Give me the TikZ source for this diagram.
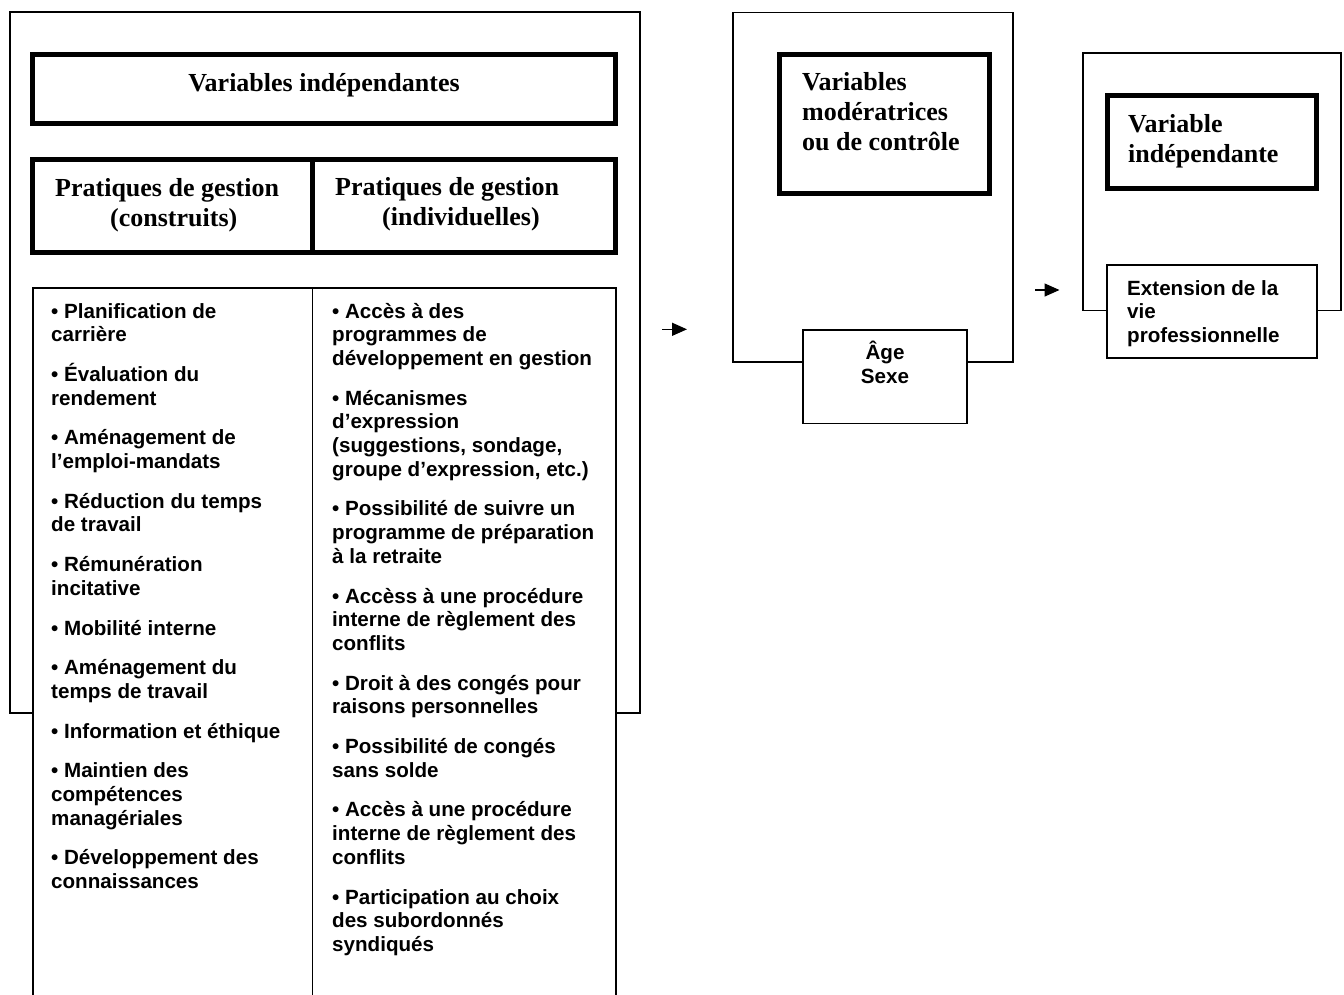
\documentclass[tikz,border=0pt]{standalone}
\usepackage{fontspec}
\setmainfont{Liberation Serif}
\newfontfamily\arialf{Liberation Sans}
\usetikzlibrary{arrows.meta}
\tikzset{
  thinbox/.style={draw, line width=1.6pt, fill=white, inner sep=0pt, outer sep=0pt},
  thickbox/.style={draw, line width=5pt, fill=white, inner sep=0pt, outer sep=0pt},
  hdr/.style={font=\fontsize{26}{30}\selectfont\bfseries, inner sep=0pt, align=left},
  lst/.style={font=\arialf\fontsize{20.6}{23.7}\selectfont\bfseries, inner sep=0pt, align=left},
  arr/.style={line width=1.4pt, -{Triangle[length=15pt,width=13pt]}},
  thinline/.style={line width=1.6pt},
}
\begin{document}
\begin{tikzpicture}[x=1pt,y=-1pt]
\fill[white] (0,0) rectangle (1344,994);
\useasboundingbox (0,0) rectangle (1344,994);

% ---------- left block ----------
\node[thinbox, minimum width=630pt, minimum height=701pt] (outerL) at (325,362.5) {};
\node[thickbox, minimum width=583pt, minimum height=69pt] (hVI) at (324,89) {};
\node[thickbox, minimum width=280pt, minimum height=92.5pt] (hPC) at (172.5,205.75) {};
\node[thickbox, minimum width=303pt, minimum height=92.5pt] (hPI) at (464,205.75) {};
\coordinate (lbBL) at (33,995);
\coordinate (lbTL) at (33,288);
\coordinate (lbTR) at (616,288);
\coordinate (lbBR) at (616,995);
\coordinate (lbMT) at (312.5,288);
\coordinate (lbMB) at (312.5,995);
\fill[white] (lbBL) -- (lbTL) -- (lbTR) -- (lbBR) -- cycle;
\draw[thinline] (lbBL) -- (lbTL) -- (lbTR) -- (lbBR);
\draw[thinline] (lbMT) -- (lbMB);

% (multi-line nodes: base anchor = baseline of the last line)
\node[hdr, anchor=base] (tVI) at (324,91) {Variables indépendantes};
\node[hdr, anchor=base west] (tPC) at (55,226) {Pratiques de gestion\\\hspace*{55pt}(construits)};
\node[hdr, anchor=base west] (tPI) at (335,225) {Pratiques de gestion\\\hspace*{47pt}(individuelles)};

\node[lst, anchor=base west] (listL) at (51,888.6) {%
• Planification de\\carrière\\[16pt]
• Évaluation du\\rendement\\[16pt]
• Aménagement de\\l’emploi-mandats\\[16pt]
• Réduction du temps\\de travail\\[16pt]
• Rémunération\\incitative\\[16pt]
• Mobilité interne\\[16pt]
• Aménagement du\\temps de travail\\[16pt]
• Information et éthique\\[16pt]
• Maintien des\\compétences\\managériales\\[16pt]
• Développement des\\connaissances};

\node[lst, anchor=base west] (listR) at (332,951.4) {%
• Accès à des\\programmes de\\développement en gestion\\[16pt]
• Mécanismes\\d’expression\\(suggestions, sondage,\\groupe d’expression, etc.)\\[16pt]
• Possibilité de suivre un\\programme de préparation\\à la retraite\\[16pt]
• Accèss à une procédure\\interne de règlement des\\conflits\\[16pt]
• Droit à des congés pour\\raisons personnelles\\[16pt]
• Possibilité de congés\\sans solde\\[16pt]
• Accès à une procédure\\interne de règlement des\\conflits\\[16pt]
• Participation au choix\\des subordonnés\\syndiqués};

% ---------- middle block ----------
\node[thinbox, minimum width=280pt, minimum height=349.5pt] (outerM) at (873,187.25) {};
\node[thickbox, minimum width=210pt, minimum height=138.5pt] (hMod) at (884.5,123.75) {};
\node[hdr, anchor=base west] (tMod) at (802,150) {Variables\\modératrices\\ou de contrôle};
\node[thinbox, minimum width=164pt, minimum height=93.5pt] (ageBox) at (885,376.75) {};
\node[lst, align=center, anchor=base] (tAge) at (885,383) {Âge\\Sexe};

% ---------- right block ----------
\node[thinbox, minimum width=258pt, minimum height=257.5pt] (outerR) at (1212,181.75) {};
\node[thickbox, minimum width=209pt, minimum height=92.5pt] (hDep) at (1211.5,141.75) {};
\node[hdr, anchor=base west] (tDep) at (1128,162) {Variable\\indépendante};
\node[thinbox, minimum width=210pt, minimum height=93pt] (extBox) at (1212,311.5) {};
\node[lst, anchor=base west, font=\arialf\fontsize{20.6}{23.5}\selectfont\bfseries] (tExt) at (1127,342) {Extension de la\\vie\\professionnelle};

% ---------- arrows ----------
\coordinate (a1s) at (662,329.3);
\coordinate (a1e) at (687,329.3);
\coordinate (a2s) at (1035,290);
\coordinate (a2e) at (1059.5,290);
\draw[arr] (a1s) -- (a1e);
\draw[arr] (a2s) -- (a2e);
\end{tikzpicture}
\end{document}
